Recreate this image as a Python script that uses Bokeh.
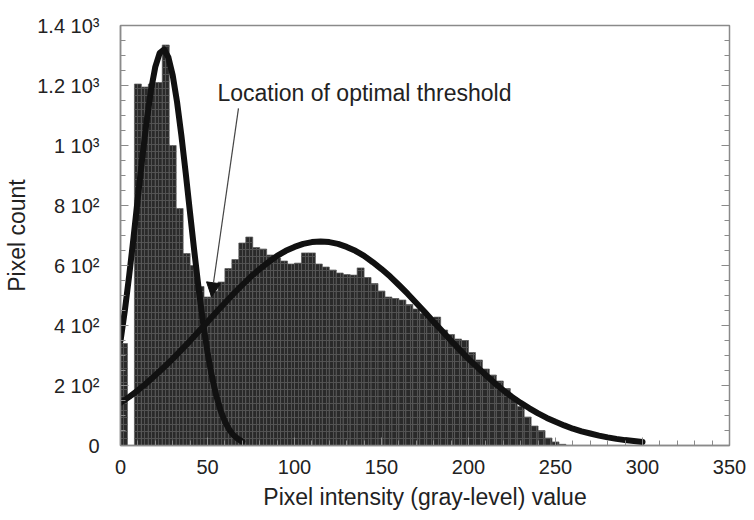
from bokeh.plotting import figure
from bokeh.models import (FixedTicker, LinearAxis, Range1d, Arrow, NormalHead,
                          Label, CustomJSTickFormatter)
from bokeh.embed import file_html
from bokeh.resources import INLINE

# ---- data ----
bin_centers = [2, 6, 10, 14, 18, 22, 26, 30, 34, 38, 42, 46, 50, 54, 58, 62, 66,
               70, 74, 78, 82, 86, 90, 94, 98, 102, 106, 110, 114, 118, 122, 126,
               130, 134, 138, 142, 146, 150, 154, 158, 162, 166, 170, 174, 178,
               182, 186, 190, 194, 198, 202, 206, 210, 214, 218, 222, 226, 230,
               234, 238, 242, 246, 250, 254]
counts = [340, 0, 1205, 1195, 1205, 1210, 1335, 1000, 790, 640, 600, 530, 495,
          515, 545, 590, 620, 675, 695, 660, 655, 635, 625, 615, 605, 608, 642,
          642, 605, 595, 585, 575, 570, 568, 592, 560, 540, 515, 495, 490, 485,
          470, 455, 440, 425, 428, 385, 370, 355, 350, 310, 285, 255, 235, 215,
          190, 160, 130, 95, 65, 50, 25, 12, 4]

fit1_x = [0, 2.5, 5, 7.5, 10, 12.5, 15, 17.5, 20, 22.5, 25, 27.5, 30, 32.5, 35,
          37.5, 40, 42.5, 45, 47.5, 50, 52.5, 55, 57.5, 60, 62.5, 65, 67.5, 70]
fit1_y = [348, 450, 567, 694, 827, 958, 1080, 1184, 1262, 1308, 1320, 1294, 1234,
          1145, 1033, 907, 774, 643, 519, 407, 311, 231, 167, 117, 80, 53, 34, 22, 13]

fit2_x = [0, 5, 10, 15, 20, 25, 30, 35, 40, 45, 50, 55, 60, 65, 70, 75, 80, 85,
          90, 95, 100, 105, 110, 115, 120, 125, 130, 135, 140, 145, 150, 155,
          160, 165, 170, 175, 180, 185, 190, 195, 200, 205, 210, 215, 220, 225,
          230, 235, 240, 245, 250, 255, 260, 265, 270, 275, 280, 285, 290, 295, 300]
fit2_y = [142, 162, 184, 208, 234, 261, 289, 319, 349, 381, 412, 444, 475, 506,
          535, 563, 588, 611, 632, 649, 662, 672, 678, 680, 678, 672, 662, 649,
          632, 611, 588, 563, 535, 506, 475, 444, 412, 381, 349, 319, 289, 261,
          234, 208, 184, 162, 142, 124, 107, 92, 79, 67, 56, 47, 40, 33, 27, 22,
          18, 15, 12]

x_ticks = [0, 50, 100, 150, 200, 250, 300, 350]
y_ticks = [0, 200, 400, 600, 800, 1000, 1200, 1400]
y_tick_labels = ["0", "2 10\u00b2", "4 10\u00b2", "6 10\u00b2", "8 10\u00b2",
                 "1 10\u00b3", "1.2 10\u00b3", "1.4 10\u00b3"]
x_title = "Pixel intensity (gray-level) value"
y_title = "Pixel count"
note = "Location of optimal threshold"

FONT = "Liberation Sans"
TXT = "#222222"

p = figure(width=746, height=512, x_range=Range1d(0, 350), y_range=Range1d(0, 1400),
           output_backend="svg", toolbar_location=None,
           min_border_left=120, min_border_top=25, min_border_right=17,
           min_border_bottom=66)
p.grid.visible = False
p.outline_line_color = "#8a8a8a"
p.outline_line_width = 1.5
p.background_fill_color = "white"

x_minor = list(range(0, 351, 10))
y_minor = list(range(0, 1401, 50))

ax = p.xaxis[0]
ax.ticker = FixedTicker(ticks=x_ticks, minor_ticks=x_minor)
ay = p.yaxis[0]
ay.ticker = FixedTicker(ticks=y_ticks, minor_ticks=y_minor)
ay.major_label_overrides = {t: l for t, l in zip(y_ticks, y_tick_labels)}

for a in (ax, ay):
    a.major_tick_in = 8
    a.major_tick_out = 0
    a.minor_tick_in = 5
    a.minor_tick_out = 0
    a.axis_line_color = "#8a8a8a"
    a.axis_line_width = 1.5
    a.major_tick_line_color = "#8a8a8a"
    a.minor_tick_line_color = "#8a8a8a"
    a.major_label_text_font = FONT
    a.major_label_text_font_size = "20px"
    a.major_label_text_color = TXT
    a.axis_label_text_font = FONT
    a.axis_label_text_font_size = "23px"
    a.axis_label_text_font_style = "normal"
    a.axis_label_text_color = TXT

ax.axis_label = x_title
ax.major_label_standoff = 14
ax.axis_label_standoff = 7
ay.axis_label = y_title
ay.major_label_standoff = 21
ay.axis_label_standoff = 4

ra = LinearAxis(ticker=FixedTicker(ticks=y_ticks, minor_ticks=y_minor),
                formatter=CustomJSTickFormatter(code="return ''"),
                major_tick_in=8, major_tick_out=0, minor_tick_in=5, minor_tick_out=0,
                axis_line_color=None, major_tick_line_color="#8a8a8a",
                minor_tick_line_color="#8a8a8a", major_label_standoff=0)
p.add_layout(ra, "right")

p.vbar(x=bin_centers, width=4, top=counts, bottom=0,
       fill_color="#2a2a2a", line_color="#5e5e5e", line_width=0.7,
       hatch_pattern="+", hatch_color="#525252", hatch_scale=7, hatch_weight=1)

p.line(fit1_x, fit1_y, line_width=6, color="#111111", line_join="round", line_cap="round")
p.line(fit2_x, fit2_y, line_width=6, color="#111111", line_join="round", line_cap="round")

p.add_layout(Arrow(end=NormalHead(size=14, fill_color="#111111", line_color="#111111"),
                   x_start=67.8, y_start=1124, x_end=52.3, y_end=496,
                   line_color="#444444", line_width=1.2))
p.add_layout(Label(x=55.7, y=1174, text=note, text_font=FONT, text_font_size="23px",
                   text_color=TXT, text_baseline="alphabetic"))

open("out.html", "w").write(file_html(p, INLINE))
